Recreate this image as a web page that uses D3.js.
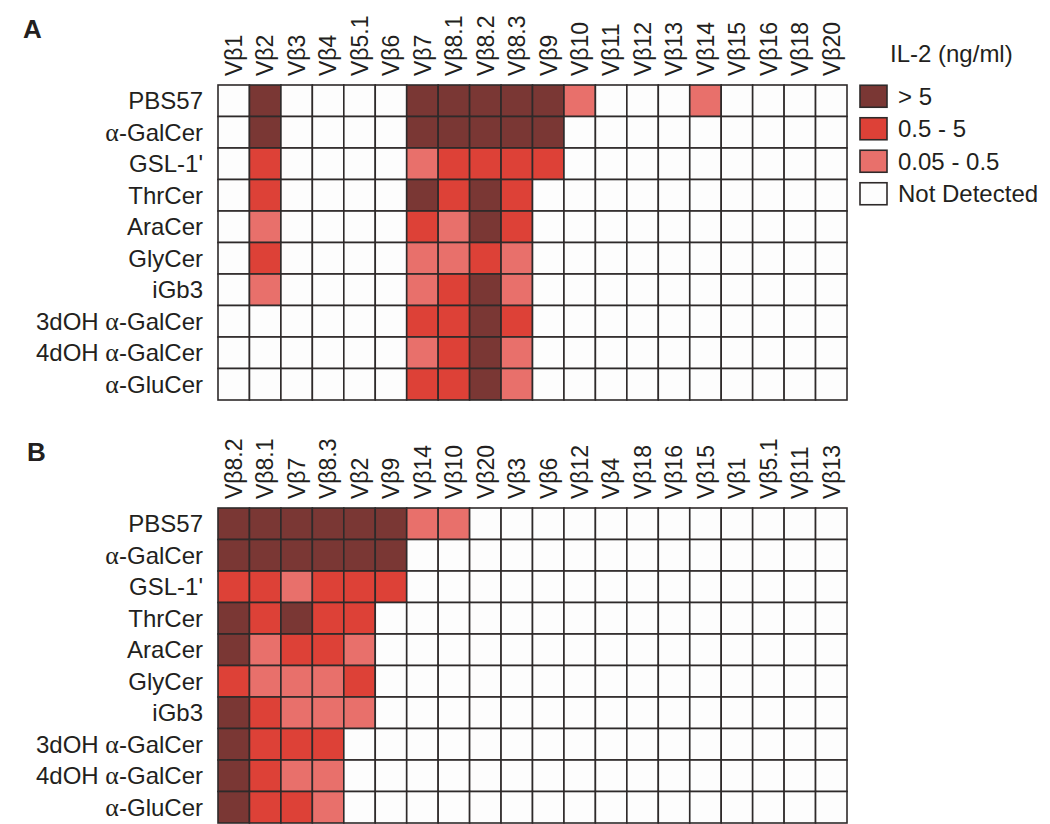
<!DOCTYPE html>
<html>
<head>
<meta charset="utf-8">
<script src="https://cdn.jsdelivr.net/npm/d3@7"></script>
<style>
	body { margin: 0; background: #fff; }
	text { font-family: "Liberation Sans", Arial, sans-serif; fill: #231f20; }
</style>
</head>
<body>
<script>
// Vbeta columns, panel A order
let vbetaA = ['Vβ1', 'Vβ2', 'Vβ3', 'Vβ4', 'Vβ5.1', 'Vβ6', 'Vβ7', 'Vβ8.1', 'Vβ8.2', 'Vβ8.3',
	'Vβ9', 'Vβ10', 'Vβ11', 'Vβ12', 'Vβ13', 'Vβ14', 'Vβ15', 'Vβ16', 'Vβ18', 'Vβ20']
// panel B is the same data sorted by response
let vbetaB = ['Vβ8.2', 'Vβ8.1', 'Vβ7', 'Vβ8.3', 'Vβ2', 'Vβ9', 'Vβ14', 'Vβ10', 'Vβ20', 'Vβ3',
	'Vβ6', 'Vβ12', 'Vβ4', 'Vβ18', 'Vβ16', 'Vβ15', 'Vβ1', 'Vβ5.1', 'Vβ11', 'Vβ13']

let compounds = ['PBS57', 'α-GalCer', "GSL-1'", 'ThrCer', 'AraCer', 'GlyCer', 'iGb3',
	'3dOH α-GalCer', '4dOH α-GalCer', 'α-GluCer']

// IL-2 level per compound, in vbetaA order: 0 = not detected, 1 = 0.05-0.5, 2 = 0.5-5, 3 = >5
let pbs57    = [0,3,0,0,0,0,3,3,3,3,3,1,0,0,0,1,0,0,0,0]
let galCer   = [0,3,0,0,0,0,3,3,3,3,3,0,0,0,0,0,0,0,0,0]
let gsl1     = [0,2,0,0,0,0,1,2,2,2,2,0,0,0,0,0,0,0,0,0]
let thrCer   = [0,2,0,0,0,0,3,2,3,2,0,0,0,0,0,0,0,0,0,0]
let araCer   = [0,1,0,0,0,0,2,1,3,2,0,0,0,0,0,0,0,0,0,0]
let glyCer   = [0,2,0,0,0,0,1,1,2,1,0,0,0,0,0,0,0,0,0,0]
let iGb3     = [0,1,0,0,0,0,1,2,3,1,0,0,0,0,0,0,0,0,0,0]
let dOH3     = [0,0,0,0,0,0,2,2,3,2,0,0,0,0,0,0,0,0,0,0]
let dOH4     = [0,0,0,0,0,0,1,2,3,1,0,0,0,0,0,0,0,0,0,0]
let gluCer   = [0,0,0,0,0,0,2,2,3,1,0,0,0,0,0,0,0,0,0,0]
let levels = [pbs57, galCer, gsl1, thrCer, araCer, glyCer, iGb3, dOH3, dOH4, gluCer]

let legendLabels = ['> 5', '0.5 - 5', '0.05 - 0.5', 'Not Detected']
let legendLevels = [3, 2, 1, 0]

let svg = d3.select('body').append('svg')
	.attr('width', 1050).attr('height', 824)

let color = d3.scaleOrdinal()
	.domain([0, 1, 2, 3])
	.range(['#fdfdfd', '#e8706b', '#dd4137', '#7a3734'])

let x = {}
x.A = d3.scaleBand().domain(vbetaA).range([218, 847])
x.B = d3.scaleBand().domain(vbetaB).range([218, 847])

// write a label, putting alpha in a serif face like the original
let writeLabel = function(sel, label) {
	let parts = label.split('α')
	parts.forEach((p, i) => {
		if (i > 0) sel.append('tspan').style('font-family', '"Liberation Serif", serif').style('font-size', '26px').text('α')
		if (p) sel.append('tspan').text(p)
	})
}

let drawPanel = function(name, top, cols) {
	let xs = x[name]
	let y = d3.scaleBand().domain(compounds).range([top, top + 315])
	let g = svg.append('g').attr('id', 'panel' + name)

	let cells = []
	compounds.forEach((c, r) => {
		cols.forEach(v => {
			cells.push({compound: c, vb: v, level: levels[r][vbetaA.indexOf(v)]})
		})
	})

	g.selectAll('rect.cell').data(cells).enter().append('rect')
		.attr('class', 'cell')
		.attr('x', d => xs(d.vb)).attr('y', d => y(d.compound))
		.attr('width', xs.bandwidth()).attr('height', y.bandwidth())
		.attr('fill', d => color(d.level))
		.attr('stroke', '#2e2a2a').attr('stroke-width', 1.6)

	g.selectAll('text.col').data(cols).enter().append('text')
		.attr('class', 'col')
		.attr('transform', d => `translate(${xs(d) + xs.bandwidth()/2},${top - 9}) rotate(-90)`)
		.attr('dy', '0.36em')
		.style('font-size', '23px')
		.text(d => d)

	g.selectAll('text.row').data(compounds).enter().append('text')
		.attr('class', 'row')
		.attr('x', 203).attr('y', d => y(d) + y.bandwidth()/2)
		.attr('dy', '0.36em')
		.attr('text-anchor', 'end')
		.style('font-size', '24px')
		.each(function(d) { writeLabel(d3.select(this), d) })

	g.append('text')
		.attr('x', name == 'A' ? 23 : 27).attr('y', top - 47)
		.style('font-size', '26px').style('font-weight', 'bold')
		.text(name)
}

drawPanel('A', 85, vbetaA)
drawPanel('B', 508, vbetaB)

// legend
let legend = svg.append('g').attr('id', 'legend')
legend.append('text')
	.attr('x', 890).attr('y', 62)
	.style('font-size', '24px')
	.text('IL-2 (ng/ml)')

let ly = d3.scaleBand().domain(legendLabels).range([80, 210])
legend.selectAll('rect').data(legendLabels).enter().append('rect')
	.attr('x', 860).attr('y', d => ly(d) + ly.bandwidth()/2 - 11)
	.attr('width', 27).attr('height', 22)
	.attr('fill', (d, i) => color(legendLevels[i]))
	.attr('stroke', '#2e2a2a').attr('stroke-width', 1.6)
legend.selectAll('text.item').data(legendLabels).enter().append('text')
	.attr('class', 'item')
	.attr('x', 898).attr('y', d => ly(d) + ly.bandwidth()/2)
	.attr('dy', '0.36em')
	.style('font-size', '24px')
	.text(d => d)
</script>
</body>
</html>
